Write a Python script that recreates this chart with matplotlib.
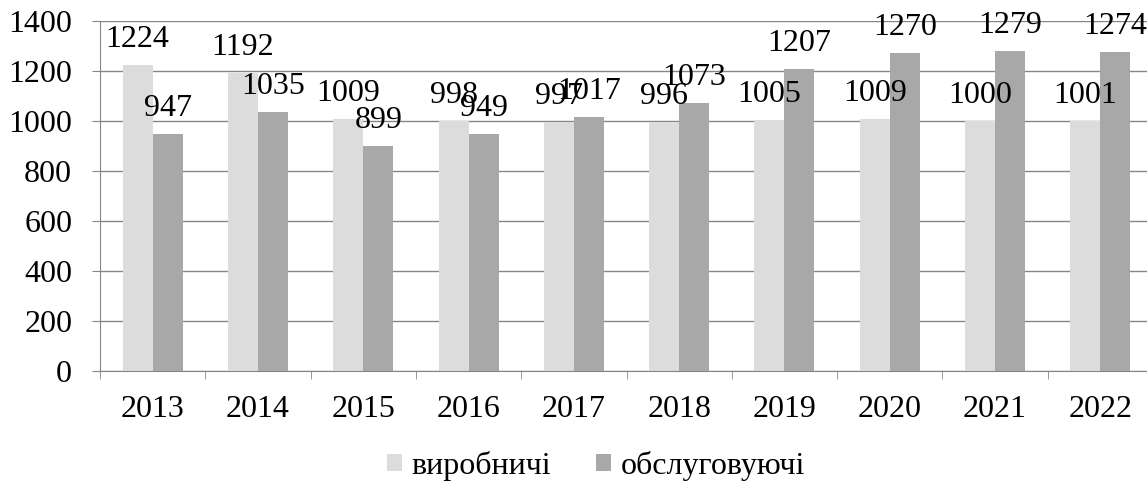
import numpy as np
from matplotlib import pyplot as plt

years = ['2013', '2014', '2015', '2016', '2017', '2018', '2019', '2020', '2021', '2022']
vyrobnychi = [1224, 1192, 1009, 998, 997, 996, 1005, 1009, 1000, 1001]
obsluhovuiuchi = [947, 1035, 899, 949, 1017, 1073, 1207, 1270, 1279, 1274]
series_names = ['виробничі', 'обслуговуючі']

plt.rcParams['font.family'] = ['Liberation Serif', 'DejaVu Serif']
plt.rcParams['font.size'] = 23

fig = plt.figure(figsize=(11.47, 4.86), dpi=100)
ax = fig.add_axes([100 / 1147, 115 / 486, 1053 / 1147, 350 / 486])

x = np.arange(len(years))
w = 0.285
b1 = ax.bar(x - w / 2, vyrobnychi, w, color='#dcdcdc', label=series_names[0], zorder=2)
b2 = ax.bar(x + w / 2, obsluhovuiuchi, w, color='#a8a8a8', label=series_names[1], zorder=2)

# value labels above every bar
for bars in (b1, b2):
    for rect in bars:
        h = rect.get_height()
        ax.annotate(str(int(h)), (rect.get_x() + rect.get_width() / 2, h),
                    xytext=(0, 8), textcoords='offset points',
                    ha='center', va='bottom', fontsize=23, zorder=3)

ax.set_xlim(-0.5, len(years) - 0.5)
ax.set_ylim(0, 1400)
ax.set_yticks(range(0, 1401, 200))
ax.set_xticks(x)
ax.set_xticklabels(years)
ax.set_xticks(np.arange(len(years) + 1) - 0.5, minor=True)
ax.tick_params(axis='x', which='major', length=0, pad=17)
ax.tick_params(axis='x', which='minor', length=6, color='#868686')
ax.tick_params(axis='y', length=6, color='#868686', pad=14)

ax.yaxis.grid(True, color='#868686', linewidth=1, zorder=0)
ax.set_axisbelow(True)
for s in ['top', 'right']:
    ax.spines[s].set_visible(False)
ax.spines['left'].set_color('#868686')
ax.spines['bottom'].set_color('#868686')

fig.legend(loc='center', bbox_to_anchor=(596 / 1147, 1 - 466 / 486), ncol=2, frameon=False,
           handlelength=0.47, handleheight=0.47, handletextpad=0.3, columnspacing=1.4,
           fontsize=23)

fig.savefig('out.png', dpi=100)
